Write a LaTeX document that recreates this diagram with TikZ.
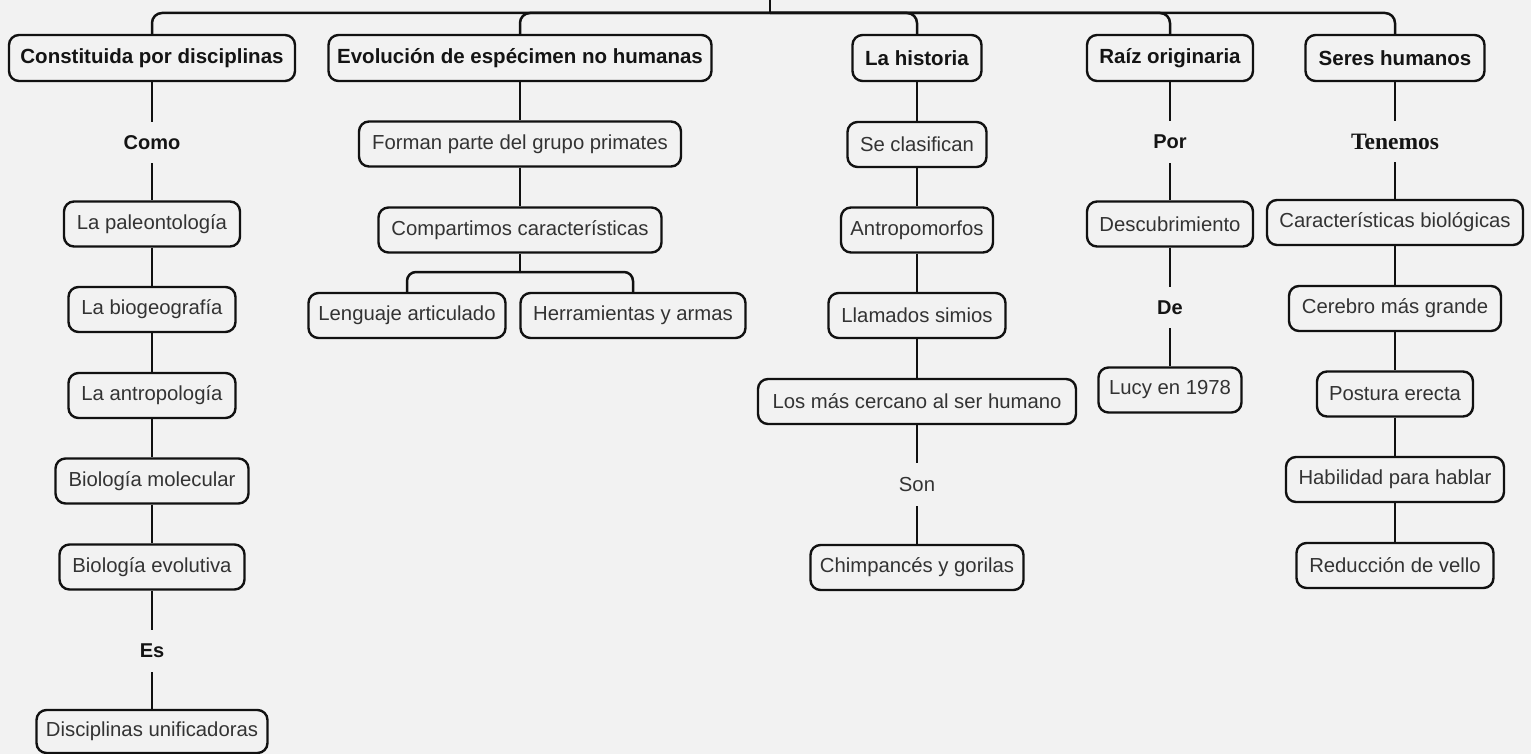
\documentclass[tikz,border=0pt]{standalone}
\usepackage{fontspec}
\setmainfont{Liberation Sans}
\newfontfamily\serifbold{Liberation Serif}
\definecolor{bgc}{HTML}{F2F2F2}
\definecolor{txt}{HTML}{333333}
\definecolor{lin}{HTML}{111111}
\tikzset{
  box/.style={draw=lin, line width=2.4pt, rounded corners=10pt, fill=bgc,
    minimum height=45pt, inner sep=0pt, text=txt, font=\fontsize{20.3}{24}\selectfont},
  head/.style={box, text=black!92, font=\bfseries\fontsize{20.5}{24}\selectfont},
  lbl/.style={inner sep=0pt, minimum width=20pt, text=black!92, font=\bfseries\fontsize{20}{24}\selectfont},
  lblplain/.style={inner sep=0pt, minimum width=20pt, text=txt, font=\fontsize{20.3}{24}\selectfont},
  lblserif/.style={inner sep=0pt, minimum width=20pt, text=black!92, font=\serifbold\bfseries\fontsize{23.5}{26}\selectfont},
  conn/.style={draw=lin, line width=2.5pt},
  bus/.style={conn, rounded corners=10pt},
}
\begin{document}
\begin{tikzpicture}[x=1pt,y=-1pt]
\useasboundingbox (0,0) rectangle (1531,754);
\fill[bgc] (0,0) rectangle (1531,754);

% top hub
\coordinate (top) at (770,0);
\coordinate (hub) at (770,13);

% top row
\node[head, minimum width=286pt, minimum height=46pt] (h1) at (152,58) {Constituida por disciplinas};
\node[head, minimum width=383pt, minimum height=46pt] (h2) at (520,58) {Evolución de espécimen no humanas};
\node[head, minimum width=129pt, minimum height=46pt] (h3) at (917,58) {La historia};
\node[head, minimum width=166pt, minimum height=46pt] (h4) at (1170,58) {Raíz originaria};
\node[head, minimum width=179pt, minimum height=46pt] (h5) at (1395,58) {Seres humanos};

% column 1
\node[lbl, minimum height=41pt] (como) at (152,142.5) {Como};
\node[box, minimum width=176pt] (a1) at (152,224) {La paleontología};
\node[box, minimum width=167pt] (a2) at (152,309.5) {La biogeografía};
\node[box, minimum width=167pt] (a3) at (152,395.5) {La antropología};
\node[box, minimum width=193pt] (a4) at (152,481) {Biología molecular};
\node[box, minimum width=185pt] (a5) at (152,567) {Biología evolutiva};
\node[lbl, minimum height=42pt] (es) at (152,651) {Es};
\node[box, minimum width=231pt, minimum height=43pt] (a6) at (152,731.5) {Disciplinas unificadoras};

% column 2
\node[box, minimum width=322pt] (b1) at (520,144) {Forman parte del grupo primates};
\node[box, minimum width=283pt] (b2) at (520,230) {Compartimos características};
\coordinate (hubb) at (520,272);
\node[box, minimum width=197pt] (b3) at (407,315.5) {Lenguaje articulado};
\node[box, minimum width=225pt] (b4) at (633,315.5) {Herramientas y armas};

% column 3
\node[box, minimum width=139pt] (c1) at (917,144.5) {Se clasifican};
\node[box, minimum width=152pt] (c2) at (917,230) {Antropomorfos};
\node[box, minimum width=177pt] (c3) at (917,315.5) {Llamados simios};
\node[box, minimum width=318pt] (c4) at (917,401.5) {Los más cercano al ser humano};
\node[lblplain, minimum height=43pt] (son) at (917,484.5) {Son};
\node[box, minimum width=213pt] (c5) at (917,567.5) {Chimpancés y gorilas};

% column 4
\node[lbl, minimum height=42pt] (por) at (1170,142) {Por};
\node[box, minimum width=166pt] (d1) at (1170,224) {Descubrimiento};
\node[lbl, minimum height=41pt] (de) at (1170,307.5) {De};
\node[box, minimum width=143pt] (d2) at (1170,390) {Lucy en 1978};

% column 5
\node[lblserif, minimum height=41pt] (ten) at (1395,141.5) {Tenemos};
\node[box, minimum width=256pt] (e1) at (1395,222.5) {Características biológicas};
\node[box, minimum width=212pt] (e2) at (1395,308.5) {Cerebro más grande};
\node[box, minimum width=156pt] (e3) at (1395,394) {Postura erecta};
\node[box, minimum width=218pt] (e4) at (1395,479.5) {Habilidad para hablar};
\node[box, minimum width=197pt] (e5) at (1395,565.5) {Reducción de vello};

% connectors: top bus
\draw[conn] (top) -- (hub);
\foreach \n in {h1,h2,h3,h4,h5} \draw[bus] (hub) -| (\n.north);

% column 1
\draw[conn] (h1.south) -- (como.north);
\draw[conn] (como.south) -- (a1.north);
\draw[conn] (a1.south) -- (a2.north);
\draw[conn] (a2.south) -- (a3.north);
\draw[conn] (a3.south) -- (a4.north);
\draw[conn] (a4.south) -- (a5.north);
\draw[conn] (a5.south) -- (es.north);
\draw[conn] (es.south) -- (a6.north);

% column 2
\draw[conn] (h2.south) -- (b1.north);
\draw[conn] (b1.south) -- (b2.north);
\draw[conn] (b2.south) -- (hubb);
\draw[bus, rounded corners=9pt] (hubb) -| (b3.north);
\draw[bus, rounded corners=9pt] (hubb) -| (b4.north);

% column 3
\draw[conn] (h3.south) -- (c1.north);
\draw[conn] (c1.south) -- (c2.north);
\draw[conn] (c2.south) -- (c3.north);
\draw[conn] (c3.south) -- (c4.north);
\draw[conn] (c4.south) -- (son.north);
\draw[conn] (son.south) -- (c5.north);

% column 4
\draw[conn] (h4.south) -- (por.north);
\draw[conn] (por.south) -- (d1.north);
\draw[conn] (d1.south) -- (de.north);
\draw[conn] (de.south) -- (d2.north);

% column 5
\draw[conn] (h5.south) -- (ten.north);
\draw[conn] (ten.south) -- (e1.north);
\draw[conn] (e1.south) -- (e2.north);
\draw[conn] (e2.south) -- (e3.north);
\draw[conn] (e3.south) -- (e4.north);
\draw[conn] (e4.south) -- (e5.north);
\end{tikzpicture}
\end{document}
